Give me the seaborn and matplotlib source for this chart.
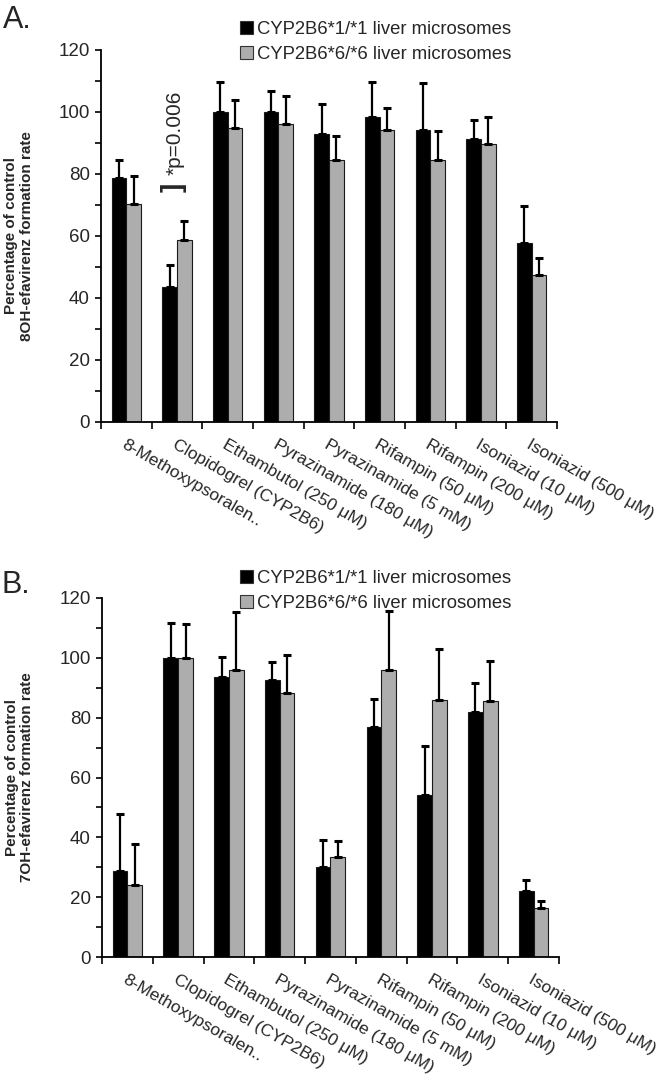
import numpy as np
import pandas as pd
import matplotlib
matplotlib.use("Agg")
import matplotlib.pyplot as plt
import seaborn as sns
from matplotlib.patches import Patch
from matplotlib.ticker import MultipleLocator

categories = ["8-Methoxypsoralen..", "Clopidogrel (CYP2B6)", "Ethambutol (250 μM)",
              "Pyrazinamide (180 μM)", "Pyrazinamide (5 mM)", "Rifampin (50 μM)",
              "Rifampin (200 μM)", "Isoniazid (10 μM)", "Isoniazid (500 μM)"]
groups = ["CYP2B6*1/*1 liver microsomes", "CYP2B6*6/*6 liver microsomes"]

# Panel A: 8OH-efavirenz
a_wt_mean = [78.6, 43.5, 100.0, 100.0, 93.0, 98.4, 94.1, 91.4, 57.7]
a_wt_sd = [6.0, 7.1, 9.7, 6.7, 9.5, 11.2, 15.3, 5.9, 12.0]
a_v6_mean = [70.3, 58.7, 94.9, 96.0, 84.5, 94.1, 84.6, 89.6, 47.3]
a_v6_sd = [9.2, 6.3, 8.9, 9.2, 7.7, 7.3, 9.4, 8.7, 5.6]

# Panel B: 7OH-efavirenz
b_wt_mean = [28.9, 100.0, 93.7, 92.5, 30.2, 77.0, 54.3, 82.0, 22.2]
b_wt_sd = [18.9, 11.5, 6.5, 6.1, 8.9, 9.2, 16.1, 9.6, 3.5]
b_v6_mean = [23.9, 100.0, 96.0, 88.3, 33.3, 96.0, 85.9, 85.7, 16.4]
b_v6_sd = [14.0, 11.2, 19.2, 12.5, 5.5, 19.8, 17.1, 13.4, 2.3]

colors = ["#000000", "#ADADAD"]

sns.set_style("ticks")
plt.rcParams["font.family"] = ["Liberation Sans", "DejaVu Sans"]

W, H = 666, 1082
fig = plt.figure(figsize=(W / 100, H / 100), dpi=100)


def fx(px):
    return px / W


def fy(py):
    return 1 - py / H


axA = fig.add_axes([fx(101), fy(422), fx(557 - 101), (422 - 50) / H])
axB = fig.add_axes([fx(102), fy(957), fx(559 - 102), (957 - 598) / H])


def draw(ax, m1, s1, m2, s2, ylabel, leg_top):
    df = pd.DataFrame({
        "cat": categories * 2,
        "grp": [groups[0]] * len(categories) + [groups[1]] * len(categories),
        "val": m1 + m2,
    })
    sns.barplot(data=df, x="cat", y="val", hue="grp", hue_order=groups,
                order=categories, palette=colors, saturation=1, width=0.58,
                errorbar=None, edgecolor="#1a1a1a", linewidth=0.8, ax=ax,
                legend=False)
    for container, sds in zip(ax.containers, [s1, s2]):
        xs = [p.get_x() + p.get_width() / 2 for p in container]
        hs = [p.get_height() for p in container]
        ax.errorbar(xs, hs, yerr=[np.zeros(len(sds)), sds], fmt="none",
                    ecolor="black", elinewidth=1.6, capsize=3, capthick=2.2,
                    zorder=3)
    ax.set_ylim(0, 120)
    ax.set_xlim(-0.5, len(categories) - 0.5)
    ax.yaxis.set_major_locator(MultipleLocator(20))
    ax.yaxis.set_minor_locator(MultipleLocator(10))
    ax.set_xticks(range(len(categories)))
    ax.set_xticks(np.arange(-0.5, len(categories), 1.0), minor=True)
    ax.set_xticklabels(categories, rotation=-30, ha="left", va="top",
                       rotation_mode="anchor", fontsize=12.6)
    ax.tick_params(axis="x", which="major", length=0, pad=11)
    ax.tick_params(axis="x", which="minor", length=5, width=1.2,
                   direction="out", color="black")
    ax.tick_params(axis="y", which="both", length=4, width=1.2,
                   direction="out", color="black", labelsize=13.5, pad=4)
    sns.despine(ax=ax)
    for s in ["left", "bottom"]:
        ax.spines[s].set_linewidth(1.3)
        ax.spines[s].set_color("black")
    ax.set_xlabel("")
    ax.set_ylabel(ylabel, fontweight="bold", fontsize=11, linespacing=1.1)
    ax.yaxis.set_label_coords(-0.148, 0.5)
    handles = [Patch(facecolor=c, edgecolor="#333333", linewidth=0.8, label=g)
               for c, g in zip(colors, groups)]
    ax.legend(handles=handles, loc="upper left",
              bbox_to_anchor=(fx(240), fy(leg_top)),
              bbox_transform=fig.transFigure, frameon=False, fontsize=13.3,
              handlelength=0.7, handleheight=0.7, handletextpad=0.2,
              labelspacing=0.42, borderpad=0, borderaxespad=0)


draw(axA, a_wt_mean, a_wt_sd, a_v6_mean, a_v6_sd,
     "Percentage of control\n8OH-efavirenz formation rate", 21)
draw(axB, b_wt_mean, b_wt_sd, b_v6_mean, b_v6_sd,
     "Percentage of control\n7OH-efavirenz formation rate", 570)

# significance annotation in panel A
axA.text(0.93, 75.8, "]", rotation=90, ha="center", va="center",
         fontsize=20, fontweight="bold")
axA.text(0.97, 93.2, "*p=0.006", rotation=90, ha="center", va="center",
         fontsize=15)

fig.text(fx(3), fy(28), "A.", fontsize=22, va="baseline", ha="left")
fig.text(fx(1), fy(593), "B.", fontsize=22, va="baseline", ha="left")

fig.savefig("out.png", dpi=100)
